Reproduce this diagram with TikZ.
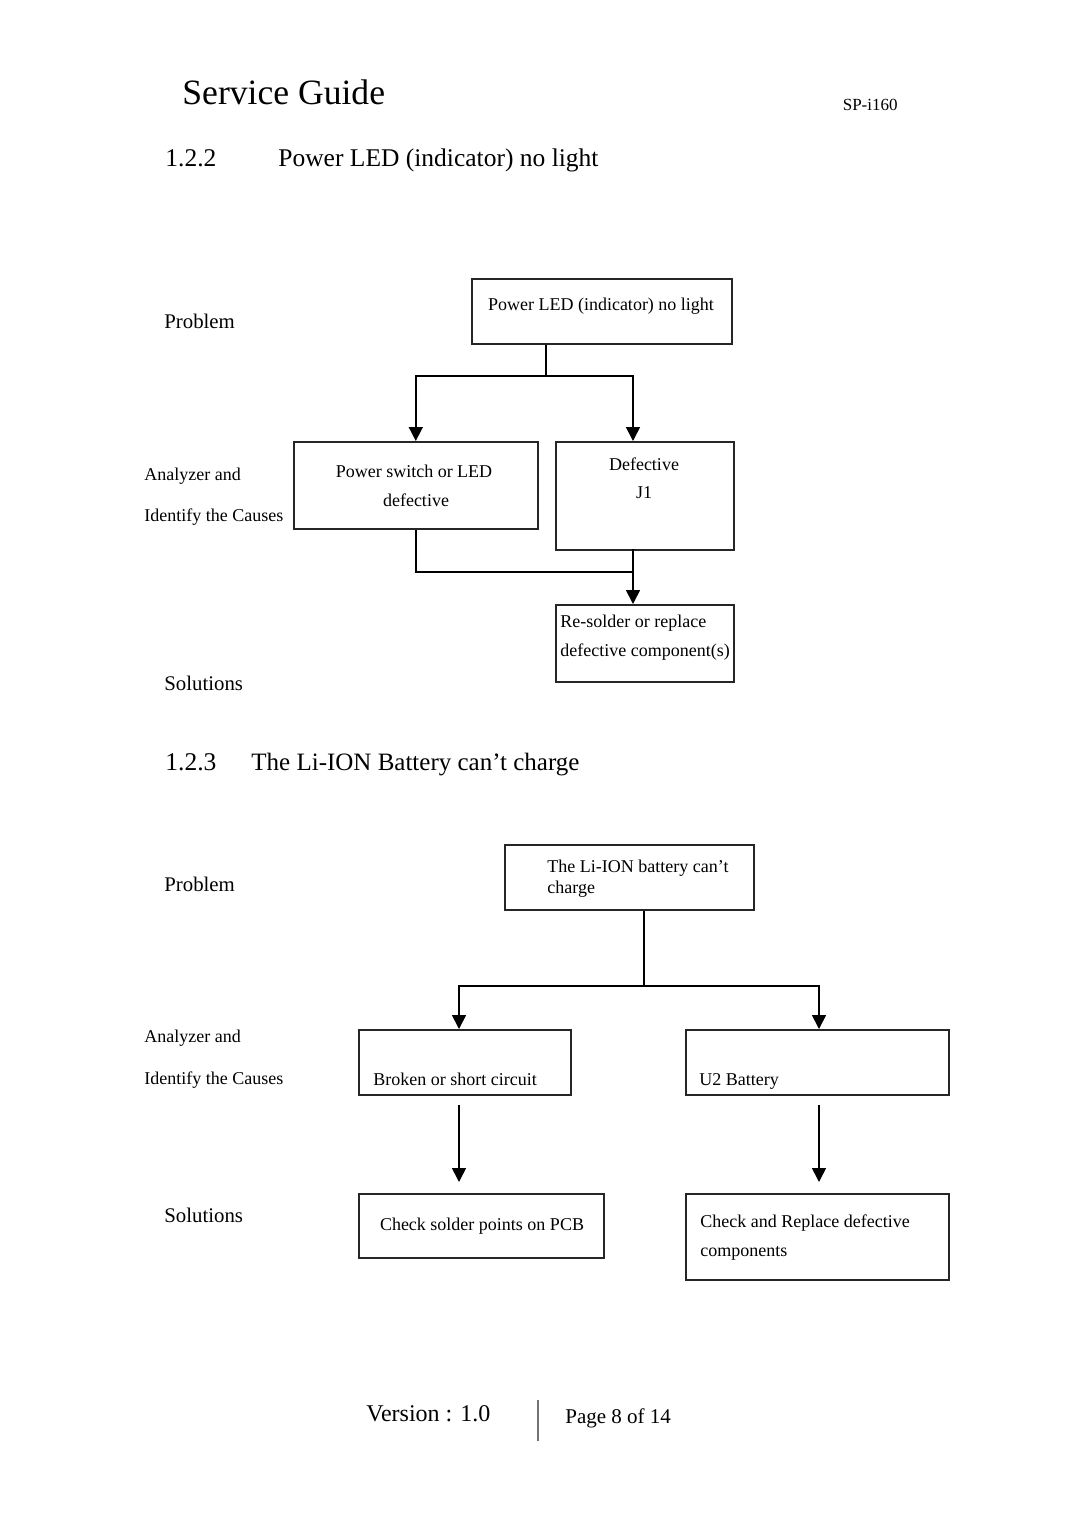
\documentclass[tikz,border=0pt]{standalone}
\usepackage{fontspec}
\setmainfont{Liberation Serif}
\usetikzlibrary{arrows.meta,calc}
\begin{document}
\begin{tikzpicture}[x=0.5pt,y=-0.5pt,
  box/.style={draw=black!85, line width=0.8pt, inner sep=0pt, anchor=north west},
  conn/.style={draw=black, line width=0.8pt},
  arr/.style={conn, -{Triangle[width=7pt,length=7pt]}},
  txt/.style={inner sep=0pt, yshift=-1.2pt, font=\fontsize{9}{11}\selectfont},
  lbl/.style={inner sep=0pt, yshift=-1.2pt, anchor=mid west, font=\fontsize{10.4}{12}\selectfont},
  side/.style={inner sep=0pt, yshift=-1.2pt, anchor=mid west, font=\fontsize{9}{11}\selectfont},
  head/.style={inner sep=0pt, yshift=-1.5pt, anchor=mid west, font=\fontsize{12.75}{15}\selectfont}]
\useasboundingbox (0,0) rectangle (1080,1528);

% page header
\node[inner sep=0pt, yshift=-2pt, anchor=mid west, font=\fontsize{17.8}{20}\selectfont] (title) at (182,96) {Service Guide};
\node[inner sep=0pt, yshift=-1pt, anchor=mid east, font=\fontsize{8.5}{10}\selectfont] (model) at (898,104) {SP-i160};

% section 1.2.2
\node[head] (h1n) at (165,159) {1.2.2};
\node[head] (h1t) at (278,159) {Power LED (indicator) no light};
\node[lbl] (p1) at (164,322) {Problem};
\node[side] (a1) at (144,473) {Analyzer and};
\node[side] (i1) at (144,514) {Identify the Causes};
\node[lbl] (s1) at (164,683) {Solutions};

\node[box, minimum width=130pt, minimum height=32.5pt] (b1) at (471,278) {};
\node[txt, anchor=mid] (t1) at (601,303) {Power LED (indicator) no light};

\node[box, minimum width=122pt, minimum height=43.5pt] (b2) at (293,441) {};
\node[txt, anchor=mid] (t2a) at (414,470) {Power switch or LED};
\node[txt, anchor=mid] (t2b) at (416,499) {defective};

\node[box, minimum width=89pt, minimum height=54pt] (b3) at (555,441) {};
\node[txt, anchor=mid] (t3a) at (644,463) {Defective};
\node[txt, anchor=mid] (t3b) at (644,491) {J1};

\node[box, minimum width=89pt, minimum height=38.5pt] (b4) at (555,604) {};
\node[txt, anchor=mid west] (t4a) at (560,620) {Re-solder or replace};
\node[txt, anchor=mid west] (t4b) at (560,649) {defective component(s)};

\coordinate (j1) at (546,376);
\coordinate (x1) at (633,376);
\coordinate (k1) at (633,549);
\coordinate (j2) at (633,572);
\draw[conn] (b1.south -| j1) -- (j1);
\draw[arr] (j1) -| (b2.north);
\draw[arr] (j1) -- (x1) -- (b3.north -| x1);
\draw[conn] (b2.south) |- (j2);
\draw[arr] (k1) -- (b4.north -| k1);

% section 1.2.3
\node[head] (h2n) at (165,763) {1.2.3};
\node[head, font=\fontsize{12.5}{15}\selectfont] (h2t) at (251,763) {The Li-ION Battery can’t charge};
\node[lbl] (p2) at (164,884) {Problem};
\node[side] (a2) at (144,1035) {Analyzer and};
\node[side] (i2) at (144,1077) {Identify the Causes};
\node[lbl] (s2) at (164,1215) {Solutions};

\node[box, minimum width=124.5pt, minimum height=32.5pt] (b5) at (504,844) {};
\node[txt, anchor=mid west] (t5a) at (547,865) {The Li-ION battery can’t};
\node[txt, anchor=mid west] (t5b) at (547,886) {charge};

\node[box, minimum width=106pt, minimum height=32.5pt] (b6) at (358,1029) {};
\node[txt, anchor=mid west] (t6) at (373,1078) {Broken or short circuit};

\node[box, minimum width=131.5pt, minimum height=32.5pt] (b7) at (685,1029) {};
\node[txt, anchor=mid west] (t7) at (699,1078) {U2 Battery};

\node[box, minimum width=122.5pt, minimum height=32pt] (b8) at (358,1193) {};
\node[txt, anchor=mid] (t8) at (482,1223) {Check solder points on PCB};

\node[box, minimum width=131.5pt, minimum height=43pt] (b9) at (685,1193) {};
\node[txt, anchor=mid west] (t9a) at (700,1220) {Check and Replace defective};
\node[txt, anchor=mid west] (t9b) at (700,1249) {components};

\coordinate (j3) at (644,986);
\coordinate (l3) at (459,986);
\coordinate (r3) at (819,986);
\draw[conn] (b5.south -| j3) -- (j3);
\draw[arr] (j3) -- (l3) -- (b6.north -| l3);
\draw[arr] (j3) -- (r3) -- (b7.north -| r3);
\coordinate (u1) at (459,1105);
\coordinate (v1) at (459,1182);
\coordinate (u2) at (819,1105);
\coordinate (v2) at (819,1182);
\draw[arr] (u1) -- (v1);
\draw[arr] (u2) -- (v2);

% footer
\node[inner sep=0pt, yshift=-1.5pt, anchor=mid west, font=\fontsize{12}{14}\selectfont] (ver) at (366,1414) {Version : 1.0};
\coordinate (f1) at (538,1400);
\coordinate (f2) at (538,1441);
\draw[black!55, line width=0.6pt] (f1) -- (f2);
\node[inner sep=0pt, yshift=-1.2pt, anchor=mid west, font=\fontsize{10.5}{12}\selectfont] (pg) at (565,1416) {Page 8 of 14};
\end{tikzpicture}
\end{document}
